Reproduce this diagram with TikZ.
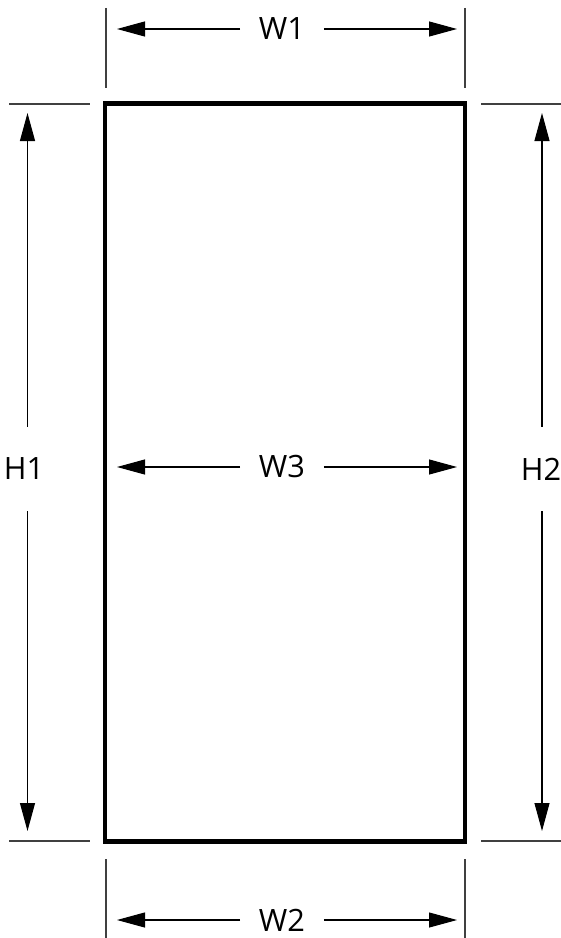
\documentclass[tikz,border=0pt]{standalone}
\usepackage{fontspec}
\setmainfont{Open Sans}
\usetikzlibrary{arrows.meta}

\begin{document}
\begin{tikzpicture}[x=0.2cm,y=-0.2cm,
    dimline/.style={line width=0.6pt,-{Triangle[length=5.6mm,width=3mm]}},
    extline/.style={line width=0.6pt,black!75},
    hlabel/.style={font=\fontsize{17.5}{21}\selectfont,inner sep=0pt,minimum width=1.66cm},
    vlabel/.style={font=\fontsize{17.5}{21}\selectfont,inner sep=0pt,minimum height=1.68cm}]
      \useasboundingbox (0,0) rectangle (56.1,93.8);

      % the part
      \draw [line width=2.6pt] (10.5,10.35) rectangle (46.5,84.15);

      % extension lines
      \draw [extline] (10.6,0.8) to (10.6,8.8);
      \draw [extline] (46.5,0.8) to (46.5,8.8);
      \draw [extline] (10.6,85.9) to (10.6,93.8);
      \draw [extline] (46.5,85.9) to (46.5,93.8);
      \draw [extline] (0.9,10.4) to (9.0,10.4);
      \draw [extline] (0.9,84.1) to (9.0,84.1);
      \draw [extline] (48.1,10.4) to (56.1,10.4);
      \draw [extline] (48.1,84.1) to (56.1,84.1);

      % widths
      \node [hlabel] (w1) at (28.2,2.9) {W1};
      \coordinate (w1l) at (11.7,2.9);
      \coordinate (w1r) at (45.7,2.9);
      \draw [dimline] (w1) to (w1l);
      \draw [dimline] (w1) to (w1r);

      \node [hlabel] (w3) at (28.2,46.7) {W3};
      \coordinate (w3l) at (11.7,46.7);
      \coordinate (w3r) at (45.7,46.7);
      \draw [dimline] (w3) to (w3l);
      \draw [dimline] (w3) to (w3r);

      \node [hlabel] (w2) at (28.2,92.0) {W2};
      \coordinate (w2l) at (11.7,92.0);
      \coordinate (w2r) at (45.7,92.0);
      \draw [dimline] (w2) to (w2l);
      \draw [dimline] (w2) to (w2r);

      % heights
      \node [vlabel] (h1) at (2.4,46.9) {H1};
      \coordinate (h1t) at (2.75,11.3);
      \coordinate (h1b) at (2.75,83.1);
      \draw [dimline] (h1.north -| h1t) to (h1t);
      \draw [dimline] (h1.south -| h1b) to (h1b);

      \node [vlabel] (h2) at (54.1,46.9) {H2};
      \coordinate (h2t) at (54.2,11.3);
      \coordinate (h2b) at (54.2,83.1);
      \draw [dimline] (h2.north -| h2t) to (h2t);
      \draw [dimline] (h2.south -| h2b) to (h2b);
\end{tikzpicture}
\end{document}
